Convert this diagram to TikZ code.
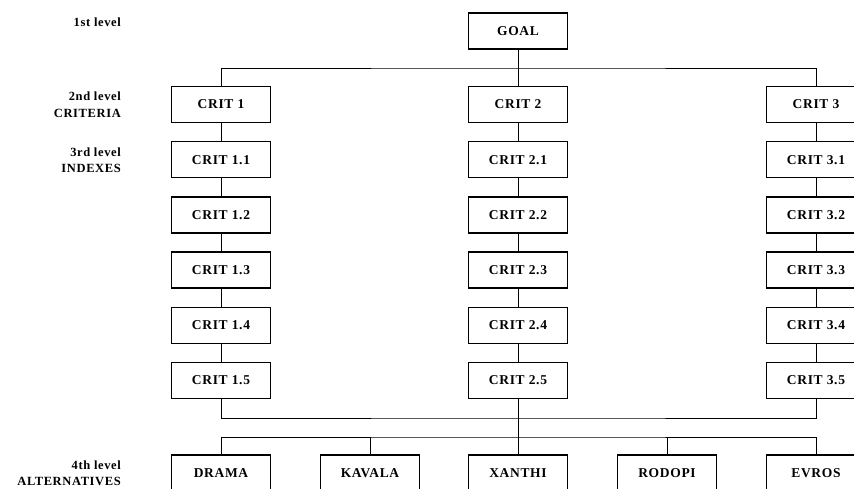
\documentclass[tikz,border=0pt]{standalone}
\usepackage{fontspec}
\setmainfont{Liberation Serif}
\newfontfamily\boxfont[LetterSpace=5]{Liberation Serif}
\begin{document}
\begin{tikzpicture}[x=1pt,y=-1pt,
  box/.style={draw, line width=1.3pt, minimum width=99pt, minimum height=36pt, inner sep=0pt,
    font=\boxfont\fontsize{13.5}{15}\selectfont\bfseries},
  lbl/.style={anchor=east, align=right, inner sep=0pt,
    font=\boxfont\fontsize{12.5}{16.5}\selectfont\bfseries},
  conn/.style={line width=1pt}]
\useasboundingbox (0,0) rectangle (854,488);
\fill[white] (0,0) rectangle (854,488);
% labels
\node[lbl] (l1) at (121,22) {1st level};
\node[lbl] (l2) at (121,104.5) {2nd level\\CRITERIA};
\node[lbl] (l3) at (121,160) {3rd level\\INDEXES};
\node[lbl] (l4) at (121,473) {4th level\\ALTERNATIVES};
% goal
\node[box] (goal) at (518,31) {GOAL};
% criteria
\foreach \c/\x in {1/221,2/518,3/816}{
  \node[box] (c\c) at (\x,104.5) {CRIT \c};
  \foreach \k in {1,...,5}{
    \node[box] (c\c\k) at (\x,104.5+55.2*\k) {CRIT \c.\k};
  }
}
% alternatives
\node[box] (a1) at (221,473) {DRAMA};
\node[box] (a2) at (370,473) {KAVALA};
\node[box] (a3) at (518,473) {XANTHI};
\node[box] (a4) at (667,473) {RODOPI};
\node[box] (a5) at (816,473) {EVROS};
% coordinates
\coordinate (topbar) at (518,68);
\coordinate (botbar) at (518,418);
\coordinate (altbar) at (518,437);
% connectors
\draw[conn] (goal.south) -- (c2.north);
\draw[conn] (c1.north) |- (topbar) -| (c3.north);
\foreach \c in {1,2,3}{
  \draw[conn] (c\c.south) -- (c\c1.north);
  \draw[conn] (c\c1.south) -- (c\c2.north);
  \draw[conn] (c\c2.south) -- (c\c3.north);
  \draw[conn] (c\c3.south) -- (c\c4.north);
  \draw[conn] (c\c4.south) -- (c\c5.north);
}
\draw[conn] (c15.south) |- (botbar) -| (c35.south);
\draw[conn] (c25.south) -- (a3.north);
\draw[conn] (a1.north) |- (altbar) -| (a5.north);
\coordinate (k) at (a2 |- altbar);
\coordinate (r) at (a4 |- altbar);
\draw[conn] (a2.north) -- (k);
\draw[conn] (a4.north) -- (r);
\end{tikzpicture}
\end{document}
